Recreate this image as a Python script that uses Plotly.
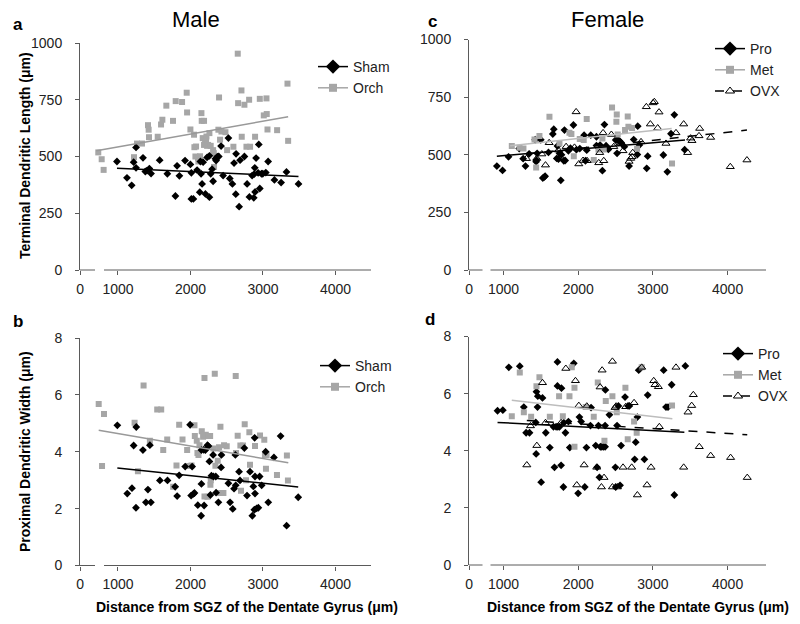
import plotly.graph_objects as go

# ---------------- data ----------------
x_ticks = [1000, 2000, 3000, 4000]
x_tick_text = ["1000", "2000", "3000", "4000"]
tdl_ticks = [0, 250, 500, 750, 1000]
pdw_ticks = [0, 2, 4, 6, 8]

# Panel a: Male, terminal dendritic length
a_sham_x = [986,1124,1189,1216,1249,1249,1345,1377,1400,1433,1456,1575,1681,1792,1815,1847,1925,1999,2012,2040,2012,2091,2128,2137,2146,2160,2174,2206,2229,2261,2261,2279,2298,2312,2344,2353,2371,2390,2422,2450,2523,2542,2578,2601,2625,2629,2671,2684,2744,2781,2813,2850,2873,2878,2887,2891,2905,2933,2942,2956,2979,2997,3039,3071,3158,3250,3324,3490]
a_sham_y = [478,406,373,475,540,450,494,434,438,447,425,484,424,326,459,415,482,465,313,313,428,440,343,478,424,379,475,335,496,503,321,424,444,391,490,482,499,500,546,416,581,403,379,471,334,512,279,484,500,379,322,416,318,422,450,344,493,428,553,359,424,424,429,478,397,385,432,379]
a_orch_x = [728,775,802,1221,1262,1331,1414,1423,1428,1548,1594,1612,1667,1759,1796,1884,1948,1953,1999,2049,2054,2077,2068,2104,2109,2132,2151,2155,2187,2169,2187,2201,2215,2220,2229,2243,2261,2279,2312,2321,2325,2358,2385,2394,2408,2427,2482,2505,2592,2652,2657,2703,2707,2744,2772,2809,2822,2891,2956,3011,3048,3052,3062,3195,3338,3347]
a_orch_y = [518,488,441,497,557,557,638,618,585,587,641,662,724,657,744,740,781,694,619,596,541,544,500,493,478,501,691,657,657,581,551,562,574,588,547,551,603,547,528,515,454,500,618,760,574,610,607,528,543,953,735,791,587,728,543,750,543,587,754,681,756,687,619,616,821,569]
a_sham_trend_x = [986, 3490]
a_sham_trend_y = [448, 412]
a_orch_trend_x = [701, 3347]
a_orch_trend_y = [525, 675]

# Panel b: Male, proximal dendritic width
b_sham_x = [991,1128,1193,1216,1248,1252,1344,1385,1413,1440,1454,1578,1683,1789,1816,1844,1927,1995,2009,2023,2041,2055,2101,2147,2151,2188,2151,2183,2206,2234,2248,2261,2275,2289,2312,2316,2349,2353,2385,2422,2427,2523,2546,2583,2601,2619,2624,2670,2683,2743,2780,2821,2853,2867,2885,2890,2890,2881,2913,2936,2954,2982,3037,3073,3151,3243,3326,3486]
b_sham_y = [4.93,2.53,2.72,4.22,2.03,4.87,4.06,2.22,2.67,4.23,2.22,2.99,2.99,2.77,2.44,3.17,3.48,4.95,2.46,3.48,2.52,2.55,2.12,1.75,2.87,2.11,4.06,4.07,4.06,4.23,4.20,3.66,2.48,3.16,3.89,3.13,3.13,2.56,2.22,3.45,3.89,2.89,2.22,1.99,2.70,3.89,2.82,3.30,2.99,4.13,2.46,3.30,1.75,2.78,4.49,2.53,3.13,1.96,2.01,2.03,3.13,2.82,4.00,2.22,3.80,4.55,1.40,2.40]
b_orch_x = [734,807,780,1229,1275,1353,1440,1541,1596,1624,1679,1761,1807,1844,1890,1954,1963,2014,2055,2060,2087,2096,2110,2124,2156,2174,2193,2193,2211,2234,2243,2271,2275,2280,2316,2335,2344,2376,2394,2413,2408,2454,2463,2500,2624,2628,2651,2688,2697,2725,2748,2766,2812,2821,2890,2959,3018,3027,3041,3050,3193,3330,3344]
b_orch_y = [5.68,5.33,3.50,5.02,3.31,6.33,4.39,5.49,5.49,4.06,4.43,2.77,3.52,4.95,4.43,4.06,3.50,3.52,4.93,4.55,4.39,3.96,3.89,4.23,4.72,4.53,6.59,2.43,4.60,2.42,4.55,4.55,2.84,3.00,4.11,6.74,3.51,3.68,4.16,4.88,2.55,2.55,4.23,4.19,6.66,3.96,4.56,4.22,2.63,4.22,4.97,3.00,4.69,3.54,4.20,4.57,4.42,3.89,3.40,3.89,3.18,3.87,2.99]
b_sham_trend_x = [991, 3486]
b_sham_trend_y = [3.43, 2.76]
b_orch_trend_x = [734, 3349]
b_orch_trend_y = [4.76, 3.61]

# Panel c: Female, terminal dendritic length
c_pro_x = [911,987,1067,1210,1263,1294,1343,1424,1437,1450,1441,1499,1526,1544,1557,1602,1660,1673,1713,1722,1736,1749,1767,1776,1807,1816,1825,1869,1896,1936,1976,2021,2079,2097,2114,2168,2244,2244,2262,2293,2324,2351,2373,2404,2520,2502,2529,2556,2574,2618,2681,2743,2797,2792,2819,2917,2930,3140,3193,3242,3287,3425]
c_pro_y = [451,432,491,527,483,451,504,565,470,506,477,565,399,403,407,510,590,611,484,538,481,506,389,500,474,607,475,517,529,629,522,527,585,474,520,585,578,540,535,542,431,631,539,523,506,564,566,559,553,535,451,566,624,501,542,441,494,499,426,591,673,522]
c_met_x = [1111,1214,1267,1415,1437,1481,1615,1749,1883,1909,1941,2021,2074,2114,2208,2271,2324,2453,2511,2516,2529,2627,2663,2672,2721,2788,3256,2342]
c_met_y = [538,530,527,566,445,581,665,549,595,590,493,568,564,655,477,523,571,705,643,675,588,607,666,621,616,526,462,523]
c_ovx_x = [1308,1446,1513,1562,1611,1736,1838,1972,1950,2008,2065,2119,2275,2288,2342,2333,2444,2476,2600,2681,2703,2721,2730,2841,2912,3002,3019,3082,2966,3064,3175,3309,3412,3465,3505,3523,3617,3626,3773,4036,4259]
c_ovx_y = [483,484,503,455,552,520,535,686,532,460,475,474,465,509,474,595,588,535,517,471,484,491,509,556,708,725,730,685,633,616,549,595,633,509,572,561,582,614,575,448,477]
c_pro_trend_x = [911, 3430]
c_pro_trend_y = [494, 564]
c_met_trend_x = [1089, 3251]
c_met_trend_y = [539, 614]
c_ovx_trend_x = [1308, 4259]
c_ovx_trend_y = [503, 607]

# Panel d: Female, proximal dendritic width
d_pro_x = [920,991,1071,1218,1272,1303,1348,1432,1437,1441,1459,1455,1504,1522,1566,1620,1682,1669,1704,1727,1722,1722,1749,1776,1771,1807,1802,1829,1869,1887,1941,1999,2016,2039,2088,2110,2172,2164,2235,2253,2271,2284,2297,2315,2337,2360,2360,2364,2418,2498,2502,2520,2538,2560,2574,2627,2667,2685,2770,2792,2810,2756,2886,2930,3144,3175,3202,3251,3287,3434]
d_pro_y = [5.40,5.42,6.92,6.96,5.53,4.63,4.63,4.99,3.89,6.07,5.91,5.53,2.90,5.85,4.63,4.11,3.42,4.84,4.84,4.84,7.11,6.27,4.84,6.19,3.49,4.98,2.73,4.63,5.02,4.11,7.06,2.51,5.18,5.02,2.73,4.11,5.51,4.88,4.18,3.42,4.88,3.07,4.14,4.14,4.14,4.14,4.88,6.13,5.26,3.42,2.73,4.88,5.57,2.79,4.18,5.88,5.57,5.57,4.30,5.18,6.82,3.70,3.70,5.95,6.82,5.53,5.53,6.31,2.45,6.97]
d_met_x = [1111,1218,1272,1370,1441,1481,1620,1744,1794,1883,1914,1950,1950,2101,2208,2262,2369,2458,2516,2632,2663,2748,2783,2850,3256,2351]
d_met_y = [5.21,6.74,5.35,5.19,6.26,6.57,5.19,5.91,5.21,5.91,6.92,4.14,6.21,5.53,5.19,6.39,5.74,5.91,5.35,6.21,4.40,5.02,4.63,6.92,5.58,4.35]
d_ovx_x = [1312,1361,1446,1522,1562,1771,1834,1963,2008,1981,2079,2115,2248,2293,2320,2346,2311,2458,2458,2493,2507,2525,2600,2636,2716,2748,2792,2850,2921,2975,3011,3028,3073,3086,3309,3412,3470,3519,3541,3621,3773,4040,4263]
d_ovx_y = [3.50,4.87,4.18,6.38,4.98,4.98,6.88,6.45,5.58,2.80,3.50,5.56,3.42,6.23,6.82,3.06,2.73,2.73,7.13,5.51,5.56,2.73,3.42,5.54,3.42,5.68,2.45,6.92,2.80,3.42,6.45,6.31,6.24,4.84,6.92,3.42,5.35,5.58,5.96,4.14,3.83,3.76,3.06]
d_pro_trend_x = [920, 3421]
d_pro_trend_y = [4.99, 4.65]
d_met_trend_x = [1111, 3260]
d_met_trend_y = [5.77, 5.12]
d_ovx_trend_x = [1312, 4263]
d_ovx_trend_y = [5.06, 4.56]

# ---------------- styling ----------------
# the page body has an 8px margin, so the figure is drawn 8px in from the window corner
OFF = 8
W, H = 792, 616
FONT = "Liberation Sans, Arial, sans-serif"
AX = "#5a5a5a"
TXT = "#222222"
GRAY = "#a6a6a6"
LGRAY = "#bdbdbd"

def fx(p):
    return (p - OFF) / W

def fy(p):
    return 1 - (p - OFF) / H

# broken x-axis: [range start (=0 label), end of first stub, start of main line, range end]
left_x = [476, 683, 807, 4490]
right_x = [538, 719, 826, 4514]

panels = {
    "a": dict(ax="", xd=(80, 371), yd=(43, 270), xr=left_x, yr=[0, 1000], yt=tdl_ticks),
    "b": dict(ax="2", xd=(80, 371), yd=(338, 565.5), xr=left_x, yr=[0, 8], yt=pdw_ticks),
    "c": dict(ax="3", xd=(469, 766), yd=(39.5, 270), xr=right_x, yr=[0, 1000], yt=tdl_ticks),
    "d": dict(ax="4", xd=(469, 766), yd=(336.5, 565), xr=right_x, yr=[0, 8], yt=pdw_ticks),
}

fig = go.Figure()
layout = {}
shapes = []
for key, p in panels.items():
    s = p["ax"]
    xr = p["xr"]
    layout["xaxis" + s] = dict(
        domain=[fx(p["xd"][0]), fx(p["xd"][1])], range=[xr[0], xr[3]],
        anchor="y" + s, tickmode="array",
        tickvals=[xr[0] + 0.5] + x_ticks, ticktext=["0"] + x_tick_text,
        ticks="outside", ticklen=4, tickcolor=AX, showline=False,
        showgrid=False, zeroline=False, ticklabelstandoff=2,
        tickfont=dict(family=FONT, size=14, color=TXT), fixedrange=True)
    layout["yaxis" + s] = dict(
        domain=[fy(p["yd"][1]), fy(p["yd"][0])], range=p["yr"],
        anchor="x" + s, tickmode="array", tickvals=p["yt"],
        ticks="outside", ticklen=4, tickcolor=AX, showline=True,
        linecolor=AX, linewidth=1, showgrid=False, zeroline=False,
        ticklabelstandoff=10,
        tickfont=dict(family=FONT, size=14, color=TXT), fixedrange=True)
    xref = "x" + s
    yref = "y" + s + " domain"
    shapes.append(dict(type="line", xref=xref, yref=yref, x0=xr[0], x1=xr[1], y0=0, y1=0,
                       line=dict(color=AX, width=1)))
    shapes.append(dict(type="line", xref=xref, yref=yref, x0=xr[2], x1=xr[3], y0=0, y1=0,
                       line=dict(color=AX, width=1)))

def pts(x, y, s, symbol, size, color, line_color=None, lw=0):
    fig.add_trace(go.Scatter(
        x=x, y=y, mode="markers", xaxis="x" + s, yaxis="y" + s, showlegend=False,
        marker=dict(symbol=symbol, size=size, color=color,
                    line=dict(color=line_color or color, width=lw)),
        hoverinfo="skip"))

def trend(x, y, s, color, width=1.5, dash="solid"):
    fig.add_trace(go.Scatter(
        x=x, y=y, mode="lines", xaxis="x" + s, yaxis="y" + s, showlegend=False,
        line=dict(color=color, width=width, dash=dash), hoverinfo="skip"))

def leg(name, s, legend, symbol, size, color, lcolor, dash="solid", lw=0):
    fig.add_trace(go.Scatter(
        x=[None], y=[None], mode="lines+markers", name=name, xaxis="x" + s, yaxis="y" + s,
        legend=legend, line=dict(color=lcolor, width=1.5, dash=dash),
        marker=dict(symbol=symbol, size=size, color=color,
                    line=dict(color=color, width=lw))))

DIA = 6
SQ = 6
TRI = 7

# panel a
pts(a_orch_x, a_orch_y, "", "square", SQ, GRAY)
pts(a_sham_x, a_sham_y, "", "diamond", DIA, "black")
trend(a_orch_trend_x, a_orch_trend_y, "", "#999999")
trend(a_sham_trend_x, a_sham_trend_y, "", "black")
leg("Sham", "", "legend", "diamond", 11, "black", "black")
leg("Orch", "", "legend", "square", 8, GRAY, GRAY)

# panel b
pts(b_orch_x, b_orch_y, "2", "square", SQ, GRAY)
pts(b_sham_x, b_sham_y, "2", "diamond", DIA, "black")
trend(b_orch_trend_x, b_orch_trend_y, "2", "#999999")
trend(b_sham_trend_x, b_sham_trend_y, "2", "black")
leg("Sham", "2", "legend2", "diamond", 11, "black", "black")
leg("Orch", "2", "legend2", "square", 8, GRAY, GRAY)

# panel c
pts(c_pro_x, c_pro_y, "3", "diamond", DIA, "black")
pts(c_met_x, c_met_y, "3", "square", SQ, GRAY)
pts(c_ovx_x, c_ovx_y, "3", "triangle-up-open", TRI, "black", "black", 1)
trend(c_met_trend_x, c_met_trend_y, "3", LGRAY)
trend(c_pro_trend_x, c_pro_trend_y, "3", "black")
trend(c_ovx_trend_x, c_ovx_trend_y, "3", "black", dash="dash")
leg("Pro", "3", "legend3", "diamond", 11, "black", "black")
leg("Met", "3", "legend3", "square", 8, GRAY, GRAY)
leg("OVX", "3", "legend3", "triangle-up-open", 8, "black", "black", dash="dash", lw=1)

# panel d
pts(d_pro_x, d_pro_y, "4", "diamond", DIA, "black")
pts(d_met_x, d_met_y, "4", "square", SQ, GRAY)
pts(d_ovx_x, d_ovx_y, "4", "triangle-up-open", TRI, "black", "black", 1)
trend(d_met_trend_x, d_met_trend_y, "4", LGRAY)
trend(d_pro_trend_x, d_pro_trend_y, "4", "black")
trend(d_ovx_trend_x, d_ovx_trend_y, "4", "black", dash="dash")
leg("Pro", "4", "legend4", "diamond", 11, "black", "black")
leg("Met", "4", "legend4", "square", 8, GRAY, GRAY)
leg("OVX", "4", "legend4", "triangle-up-open", 8, "black", "black", dash="dash", lw=1)

def legend_box(left, top):
    return dict(x=fx(left), y=fy(top), xanchor="left", yanchor="top",
                bgcolor="rgba(0,0,0,0)", borderwidth=0,
                font=dict(family=FONT, size=14, color=TXT), itemclick=False)

ann = []
def text(t, x, y, size, bold=False, angle=0, color=TXT):
    ann.append(dict(text=("<b>%s</b>" % t) if bold else t, x=fx(x), y=fy(y),
                    xref="paper", yref="paper", showarrow=False, textangle=angle,
                    xanchor="center", yanchor="middle",
                    font=dict(family=FONT, size=size, color=color)))

text("Male", 196, 19, 22, color="black")
text("Female", 607, 19, 22, color="black")
text("a", 18, 24, 17, bold=True, color="black")
text("c", 432, 22, 17, bold=True, color="black")
text("b", 18, 321, 17, bold=True, color="black")
text("d", 430, 319, 17, bold=True, color="black")
text("Terminal Dendritic Length (μm)", 25, 156, 14, bold=True, angle=-90, color="black")
text("Proximal Dendritic Width (μm)", 25, 452, 14, bold=True, angle=-90, color="black")
text("Distance from SGZ of the Dentate Gyrus (μm)", 247, 607, 14, bold=True, color="black")
text("Distance from SGZ of the Dentate Gyrus (μm)", 638, 607, 14, bold=True, color="black")

fig.update_layout(
    width=W, height=H, margin=dict(l=0, r=0, t=0, b=0, autoexpand=False),
    paper_bgcolor="white", plot_bgcolor="white",
    font=dict(family=FONT, size=14, color=TXT),
    shapes=shapes, annotations=ann,
    legend=legend_box(313, 51),
    legend2=legend_box(315, 350),
    legend3=legend_box(710, 33),
    legend4=legend_box(718, 338),
    **layout)

fig.write_html("out.html")
